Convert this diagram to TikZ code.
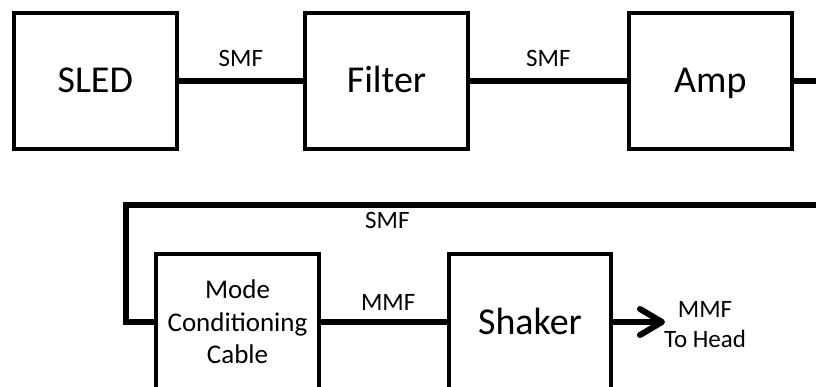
\documentclass[tikz,border=0pt]{standalone}
\usepackage{fontspec}
\setmainfont{Carlito}
\usetikzlibrary{arrows.meta}
\begin{document}
\begin{tikzpicture}[x=1pt,y=-1pt,
  box/.style={draw, line width=4pt, minimum width=162.5pt, minimum height=136pt, inner sep=0pt,
    font=\fontsize{38}{46}\selectfont, text height=24pt, text depth=0pt},
  mbox/.style={draw, line width=4pt, minimum width=162.5pt, minimum height=136pt, inner sep=0pt,
    font=\fontsize{27}{32.5}\selectfont, align=center},
  fiber/.style={line width=6pt, line join=miter},
  lbl/.style={font=\fontsize{25}{30}\selectfont, inner sep=0pt},
  tolabel/.style={lbl, anchor=base}
]
\useasboundingbox (0,0) rectangle (816,387);
\clip (0,0) rectangle (816,387);
\fill[white] (0,0) rectangle (816,387);

\node[box] (sled) at (95.25,80.85) {SLED};
\node[box] (filter) at (386.5,80.85) {Filter};
\node[box] (amp) at (710.3,80.85) {Amp};
\node[mbox] (mode) at (237.5,322) {Mode\\Conditioning\\Cable};
\node[box] (shaker) at (530,322) {Shaker};

\coordinate (r1) at (822,80.85);
\coordinate (r2) at (822,205.5);
\coordinate (c1) at (125.5,205.5);
\coordinate (tip) at (665,322);

\draw[fiber] (sled.east) -- node[tolabel, yshift=14pt] (t1) {SMF} (filter.west);
\draw[fiber] (filter.east) -- node[tolabel, yshift=14.5pt] (t2) {SMF} (amp.west);
\draw[fiber] (amp.east) -- (r1);
\draw[fiber] (r2) -- node[tolabel, pos=0.624, yshift=-22.8pt] (t3) {SMF} (c1) |- (mode.west);
\draw[fiber] (mode.east) -- node[tolabel, pos=0.535, yshift=12pt] (t4) {MMF} (shaker.west);
\draw[fiber, -{Straight Barb[length=22pt,width=26pt,round]}] (shaker.east) -- (tip);
\node[lbl, align=center] (head) at (705,325) {MMF\\To Head};
\end{tikzpicture}
\end{document}
